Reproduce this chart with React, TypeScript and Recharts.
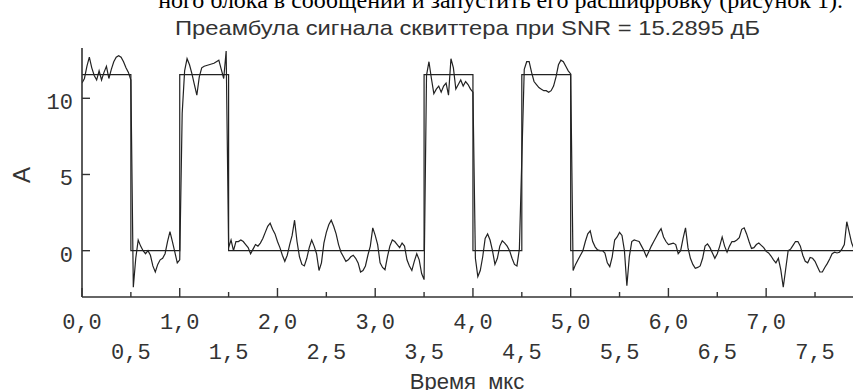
import { LineChart, Line, XAxis, YAxis } from 'recharts'

// noisy preamble, one array per microsecond, sampled every 0.025 us
const DT = 0.025
const sig0 = [11.0, 11.3, 12.1, 12.7, 12.0, 11.5, 11.2, 11.8, 11.2, 11.7, 12.1, 11.3, 11.9, 12.4, 12.7, 12.8, 12.7, 12.4, 12.0, 11.7,
  11.2, -2.4, -0.5, 0.7, 0.3, 0.0, -0.2, 0.0, -0.3, -1.0, -1.4, -0.9, -0.6, -0.5, -0.2, 0.6, 1.25, 0.6, -0.1, -0.8]
const sig1 = [-0.6, 9.0, 11.8, 12.6, 12.2, 11.6, 10.9, 10.2, 11.4, 12.0, 12.1, 12.15, 12.2, 12.25, 12.3, 12.4, 12.5, 11.9, 11.3, 13.1,
  0.2, 0.7, 0.0, 0.6, 0.6, 0.7, 0.6, 0.4, 0.2, -0.2, 0.1, 0.4, 0.3, 0.5, 0.8, 1.2, 1.6, 1.8, 1.4, 1.1]
const sig2 = [0.6, 0.2, -0.3, -0.7, -0.3, 0.4, 1.0, 2.0, 0.6, -0.4, -0.9, -1.0, -0.5, 0.2, 0.7, 0.3, -0.2, -1.3, -0.8, 0.5,
  1.2, 1.7, 2.0, 1.6, 1.1, 0.4, -0.1, -0.4, -0.7, -0.6, -0.4, -0.3, -0.5, -0.8, -1.4, -1.3, -1.0, -0.3, 0.3, 1.5]
const sig3 = [1.0, 0.4, -0.8, -1.1, -1.25, -0.4, 0.3, 0.7, 0.6, 0.4, 0.2, 0.5, 0.3, -0.6, -1.0, -1.3, -0.7, -0.2, -0.6, -1.5,
  -1.9, 11.5, 12.4, 11.3, 10.3, 10.6, 10.8, 10.4, 10.8, 11.0, 10.2, 12.6, 12.0, 10.6, 10.9, 11.2, 10.8, 11.1, 10.9, 10.6]
const sig4 = [10.4, -0.5, -1.7, -1.3, -0.4, 0.8, 1.1, 0.7, 0.0, -0.9, -0.5, 0.3, 0.65, 0.5, 0.3, 0.0, -0.5, -0.9, -1.0, 0.1,
  6.0, 11.9, 12.4, 12.4, 11.7, 11.1, 10.9, 10.7, 10.6, 10.5, 10.5, 10.4, 10.5, 10.8, 11.4, 12.2, 12.5, 12.4, 12.1, 11.8]
const sig5 = [11.6, -1.3, -0.9, -0.6, -0.3, 0.0, 0.6, 1.1, 1.3, 0.6, 0.25, 0.05, 0.0, 0.0, -0.15, -0.8, -1.05, -0.4, 0.7, 0.9,
  1.2, 1.0, 0.0, -2.3, -0.4, 0.6, 0.7, 0.65, 0.6, 0.3, 0.0, -0.4, -0.05, 0.3, 0.6, 0.9, 1.2, 1.45, 0.9, 0.6]
const sig6 = [0.4, 0.45, 0.5, 0.4, -0.2, 0.0, 0.8, 1.5, 0.2, -0.5, -0.9, -1.15, -1.1, -1.0, -0.5, 0.3, 0.45, 0.2, -0.15, -0.5,
  -0.2, 0.3, 0.9, 0.3, -0.1, 0.3, 0.6, 0.6, 0.7, 0.85, 1.4, 1.5, 1.1, 0.6, 0.15, 0.2, 0.4, 0.5, 0.35, 0.2]
const sig7 = [-0.05, -0.15, -0.35, -0.6, -0.8, -0.5, -1.26, -2.4, -1.2, 0.0, 0.1, 0.35, 0.6, 0.6, 0.3, -0.3, -0.7, -0.8, -0.45, -0.5,
  -0.7, -1.05, -1.4, -1.4, -1.1, -0.85, -0.55, -0.2, -0.1, -0.15, -0.1, 0.1, 0.4, 1.9, 1.2, 0.5, 0.1, 0.0]

// ideal pulse train
const PULSE = 11.55
const idealT = [0, 0.5, 0.5, 1, 1, 1.5, 1.5, 3.5, 3.5, 4, 4, 4.5, 4.5, 5, 5, 7.95]
const idealA = [PULSE, PULSE, 0, 0, PULSE, PULSE, 0, 0, PULSE, PULSE, 0, 0, PULSE, PULSE, 0, 0]

const xTicks = [0, 0.5, 1, 1.5, 2, 2.5, 3, 3.5, 4, 4.5, 5, 5.5, 6, 6.5, 7, 7.5]
const xTopTicks = [1, 2, 3, 4, 5, 6, 7]
const yTicks = [0, 5, 10]

const title = 'Преамбула сигнала сквиттера при SNR = 15.2895 дБ'
const pageText = 'ного блока в сообщении и запустить его расшифровку (рисунок 1).'
const xLabel = 'Время\u00a0 мкс'
const yLabel = 'А'

const noisy = [...sig0, ...sig1, ...sig2, ...sig3, ...sig4, ...sig5, ...sig6, ...sig7].map((a, i) => ({ t: i * DT, a }))
const ideal = idealT.map((t, i) => ({ t, a: idealA[i] }))

const INK = '#333'
const MONO = '"Liberation Mono", "DejaVu Sans Mono", monospace'
const SANS = '"Liberation Sans", Arial, sans-serif'

const BottomTick = (props: any) => {
  const { x, y, payload, index } = props
  const major = Number.isInteger(payload.value)
  const label = payload.value.toFixed(1).replace('.', ',')
  return (
    <g>
      <line x1={x} x2={x} y1={y} y2={y - (major ? 9 : 5)} stroke={INK} strokeWidth={1.4} />
      <text x={x} y={y + (index % 2 ? 62 : 32)} textAnchor="middle" fontFamily={MONO} fontSize={22} fill={INK}>
        {label}
      </text>
    </g>
  )
}

const TopTick = (props: any) => {
  const { x, y } = props
  return <line x1={x} x2={x} y1={y} y2={y + 5} stroke={INK} strokeWidth={1.4} />
}

const LeftTick = (props: any) => {
  const { x, y, payload } = props
  return (
    <g>
      <line x1={x} x2={x + 8} y1={y} y2={y} stroke={INK} strokeWidth={1.4} />
      <text x={x - 9} y={y + 11} textAnchor="end" fontFamily={MONO} fontSize={22} fill={INK}>
        {payload.value}
      </text>
    </g>
  )
}

const RightTick = (props: any) => {
  const { x, y } = props
  return <line x1={x} x2={x - 8} y1={y} y2={y} stroke={INK} strokeWidth={1.4} />
}

export default function App() {
  return (
    <div style={{ position: 'absolute', left: 0, top: 0, width: 853, height: 390, overflow: 'hidden', background: '#fff' }}>
      <LineChart width={900} height={390} margin={{ top: 48, right: 41, bottom: 0, left: 0 }}
        style={{ position: 'absolute', left: 0, top: 0 }}>
        <XAxis dataKey="t" type="number" domain={[0, 7.95]} ticks={xTicks} interval={0} allowDataOverflow
          height={93} tickSize={0} tickMargin={0} tickLine={false} tick={BottomTick}
          axisLine={{ stroke: INK, strokeWidth: 1.6 }} />
        <XAxis xAxisId="top" orientation="top" dataKey="t" type="number" domain={[0, 7.95]} ticks={xTopTicks}
          interval={0} allowDataOverflow height={0} tickSize={0} tickMargin={0} tickLine={false} tick={TopTick}
          axisLine={{ stroke: INK, strokeWidth: 1.6 }} />
        <YAxis type="number" domain={[-3.04, 13.3]} ticks={yTicks} interval={0} allowDataOverflow width={82}
          tickSize={0} tickMargin={0} tickLine={false} tick={LeftTick} axisLine={{ stroke: INK, strokeWidth: 1.6 }} />
        <YAxis yAxisId="right" orientation="right" type="number" domain={[-3.04, 13.3]} ticks={yTicks} interval={0}
          allowDataOverflow width={0} tickSize={0} tickMargin={0} tickLine={false} tick={RightTick}
          axisLine={{ stroke: INK, strokeWidth: 1.6 }} />
        <Line data={ideal} dataKey="a" type="linear" dot={false} stroke="#222" strokeWidth={1.2} isAnimationActive={false} />
        <Line data={noisy} dataKey="a" type="linear" dot={false} stroke="#222" strokeWidth={1.2} isAnimationActive={false} />
      </LineChart>
      <svg width={853} height={390} style={{ position: 'absolute', left: 0, top: 0, pointerEvents: 'none' }}>
        <text x={843} y={8} textAnchor="end" fontFamily='"Liberation Serif", "Times New Roman", serif' fontSize={24} fill="#000">
          {pageText}
        </text>
        <text x={175} y={35} textLength={585} lengthAdjust="spacingAndGlyphs" fontFamily={SANS} fontSize={21} fill={INK}>
          {title}
        </text>
        <text x={30} y={175} textAnchor="middle" fontFamily={SANS} fontSize={24} fill={INK} transform="rotate(-90 30 175)">
          {yLabel}
        </text>
        <text x={467} y={389} textAnchor="middle" fontFamily={SANS} fontSize={22} fill={INK}>{xLabel}</text>
      </svg>
    </div>
  )
}
